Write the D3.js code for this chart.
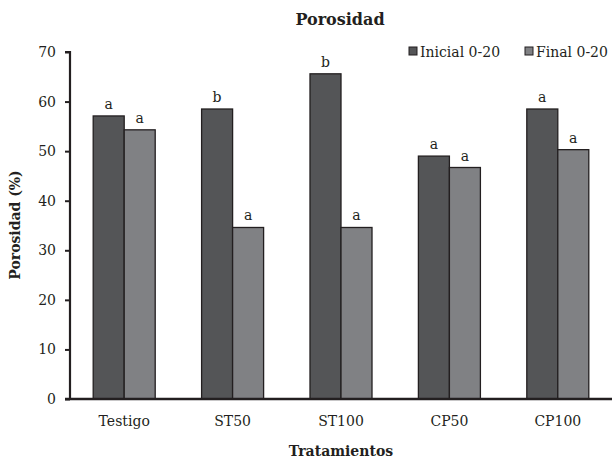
<!DOCTYPE html>
<html><head><meta charset="utf-8">
<script src="https://cdn.jsdelivr.net/npm/d3@7"></script>
<style>body{margin:0;background:#fff}svg{display:block}text{font-family:"DejaVu Serif",serif;fill:#231f20}</style>
</head><body><svg id="c" width="612" height="459"></svg>
<script>
const categories = ["Testigo","ST50","ST100","CP50","CP100"];
const seriesNames = ["Inicial 0-20","Final 0-20"];
const inicial = [57.1, 58.5, 65.6, 49.0, 58.5];
const final = [54.3, 34.6, 34.6, 46.7, 50.3];
const lettersInicial = ["a","b","b","a","a"];
const lettersFinal = ["a","a","a","a","a"];
const yTicks = [0,10,20,30,40,50,60,70];
const colors = ["#545557","#808184"];
const FONT = "DejaVu Serif";

const svg = d3.select("#c");
const m = {l:70, r:612, t:52, b:399};
const x = d3.scaleBand().domain(categories).range([m.l, m.r]).paddingInner(0.428).paddingOuter(0.214);
const xs = d3.scaleBand().domain(seriesNames).range([0, x.bandwidth()]);
const y = d3.scaleLinear().domain([0,70]).range([m.b, m.t]);

const data = categories.map((c,i)=>({c, vals:[inicial[i], final[i]], let:[lettersInicial[i], lettersFinal[i]]}));

const g = svg.append("g");
data.forEach(d=>{
  d.vals.forEach((v,j)=>{
    const bx = x(d.c) + xs(seriesNames[j]);
    g.append("rect").attr("x", bx).attr("y", y(v)).attr("width", xs.bandwidth()).attr("height", y(0)-y(v))
      .attr("fill", colors[j]).attr("stroke", "#231f20").attr("stroke-width", 1.3);
    g.append("text").attr("x", bx + xs.bandwidth()/2).attr("y", y(v)-7).attr("text-anchor","middle")
      .attr("font-size", 14).text(d.let[j]);
  });
});

// y axis
const ya = svg.append("g").attr("transform", `translate(${m.l},0)`)
  .call(d3.axisLeft(y).tickValues(yTicks).tickSize(5).tickPadding(9).tickFormat(d3.format("d")));
ya.select(".domain").attr("stroke","#231f20").attr("stroke-width",2.2).attr("d", `M-5,${m.b}H0V${m.t}H-5`);
ya.selectAll(".tick line").attr("stroke","#231f20").attr("stroke-width",2);
ya.selectAll(".tick text").attr("font-size",14).attr("font-family",FONT).attr("fill","#231f20");

// x axis
const xa = svg.append("g").attr("transform", `translate(0,${m.b})`)
  .call(d3.axisBottom(x).tickSize(0).tickPadding(17));
xa.select(".domain").attr("stroke","#231f20").attr("stroke-width",2.5).attr("d", `M${m.l-5},0H${m.r}`);
xa.selectAll(".tick text").attr("font-size",14).attr("font-family",FONT).attr("fill","#231f20");

// titles
svg.append("text").attr("x",340).attr("y",25).attr("text-anchor","middle").attr("font-size",16).attr("font-weight","bold").text("Porosidad");
svg.append("text").attr("x",341).attr("y",456).attr("text-anchor","middle").attr("font-size",14).attr("font-weight","bold").text("Tratamientos");
svg.append("text").attr("transform","translate(20,225) rotate(-90)").attr("text-anchor","middle").attr("font-size",14).attr("font-weight","bold").text("Porosidad (%)");

// legend
const legX = [409, 525];
seriesNames.forEach((s,j)=>{
  svg.append("rect").attr("x",legX[j]).attr("y",47).attr("width",8).attr("height",8)
    .attr("fill",colors[j]).attr("stroke","#231f20").attr("stroke-width",1);
  svg.append("text").attr("x",legX[j]+11).attr("y",57).attr("font-size",14).text(s);
});
</script></body></html>
